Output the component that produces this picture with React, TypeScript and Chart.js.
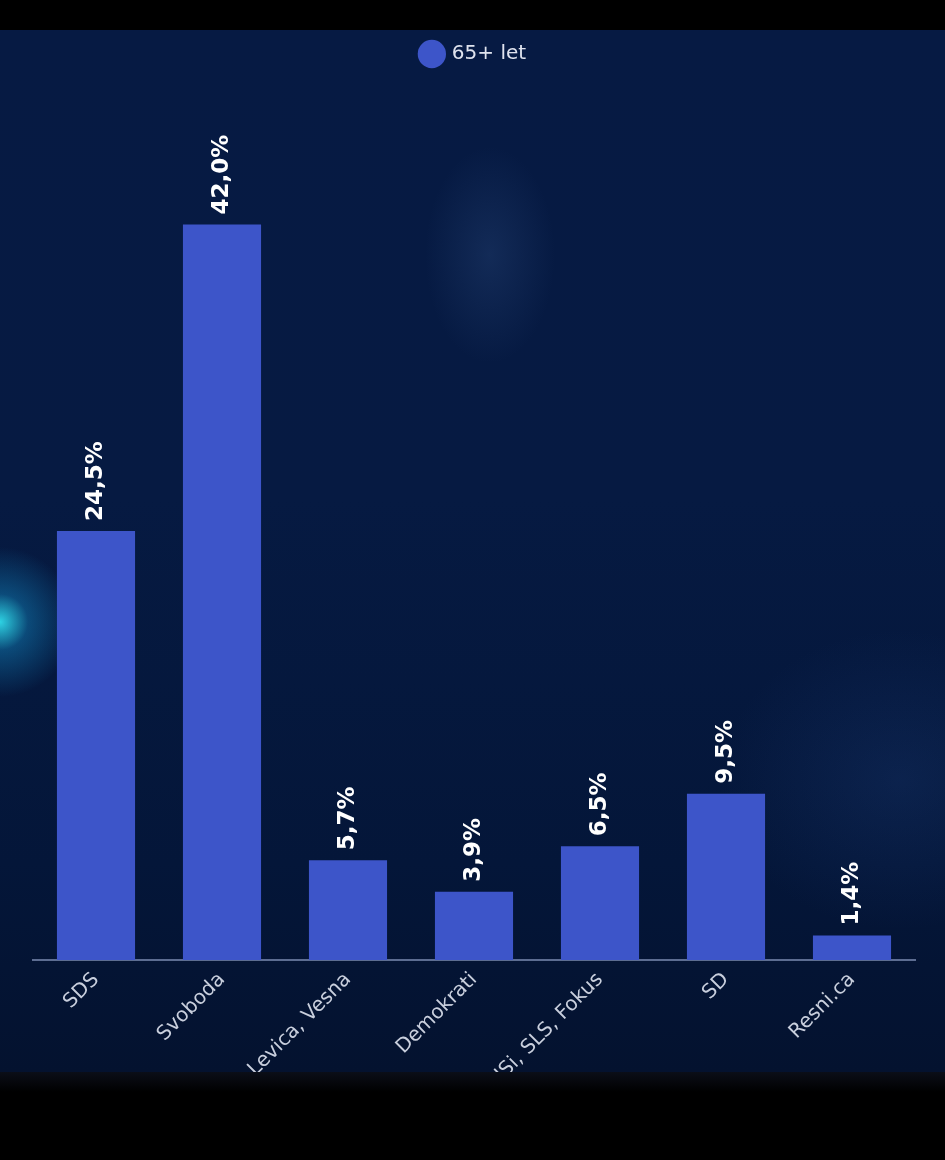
import React, { useEffect, useRef } from "react";
import { Chart, registerables } from "chart.js";

Chart.register(...registerables);

const categories = ["SDS", "Svoboda", "Levica, Vesna", "Demokrati", "NSi, SLS, Fokus", "SD", "Resni.ca"];
const seriesName = "65+ let";
const values = [24.5, 42.0, 5.7, 3.9, 6.5, 9.5, 1.4];

const BAR = "#3d55c9";

const valueLabels = {
  id: "valueLabels",
  afterDatasetsDraw(chart: any) {
    const ctx = chart.ctx;
    const meta = chart.getDatasetMeta(0);
    ctx.save();
    ctx.fillStyle = "#ffffff";
    ctx.font = "bold 23px 'DejaVu Sans'";
    ctx.textAlign = "left";
    ctx.textBaseline = "middle";
    meta.data.forEach((bar: any, i: number) => {
      const v = values[i];
      const txt = v.toFixed(1).replace(".", ",") + "%";
      ctx.save();
      ctx.translate(bar.x, bar.y - 10);
      ctx.rotate(-Math.PI / 2);
      ctx.fillText(txt, 0, 0);
      ctx.restore();
    });
    ctx.restore();
  },
};

export default function App() {
  const ref = useRef<HTMLCanvasElement>(null);
  useEffect(() => {
    if (!ref.current) return;
    const chart = new Chart(ref.current, {
      type: "bar",
      data: {
        labels: categories,
        datasets: [
          {
            label: seriesName,
            data: values,
            backgroundColor: BAR,
            borderWidth: 0,
            categoryPercentage: 1,
            barPercentage: 0.62,
          },
        ],
      },
      options: {
        responsive: false,
        animation: false,
        layout: { padding: { left: 33, right: 30, top: 4, bottom: 0 } },
        plugins: {
          legend: {
            display: true,
            position: "top",
            labels: {
              usePointStyle: true,
              pointStyle: "circle",
              boxWidth: 22,
              boxHeight: 22,
              color: "#dfe3ee",
              font: { family: "'DejaVu Sans'", size: 20 },
              padding: 10,
            },
          },
          tooltip: { enabled: false },
        },
        scales: {
          x: {
            grid: { display: false, drawTicks: false },
            border: { display: true, color: "#5d6d92", width: 2 },
            ticks: {
              color: "#c9cfdd",
              font: { family: "'DejaVu Sans'", size: 20 },
              minRotation: 45,
              maxRotation: 45,
              padding: 8,
              autoSkip: false,
            },
            afterFit(scale: any) {
              scale.height = 200;
            },
          },
          y: {
            display: false,
            min: 0,
            max: 50.6,
          },
        },
      },
      plugins: [valueLabels],
    });
    return () => chart.destroy();
  }, []);

  return (
    <div style={{ position: "absolute", left: 0, top: 0, width: 945, height: 1160, background: "#000" }}>
      <div
        style={{
          position: "absolute",
          left: 0,
          top: 30,
          width: 945,
          height: 1042,
          overflow: "hidden",
          background:
            "radial-gradient(circle at 0px 592px, rgba(50,230,245,0.9) 0px, rgba(20,150,210,0.4) 28px, rgba(0,0,0,0) 75px)," +
            "radial-gradient(ellipse at 490px 225px, rgba(70,110,170,0.2) 0px, rgba(0,0,0,0) 65px)," +
            "radial-gradient(ellipse at 900px 750px, rgba(40,80,150,0.2) 0px, rgba(0,0,0,0) 180px)," +
            "linear-gradient(180deg, #061a43 0%, #061a42 45%, #041639 80%, #04122f 100%)",
        }}
      >
        <canvas ref={ref} width={945} height={1130} style={{ display: "block", width: 945, height: 1130 }} />
      </div>
      <div
        style={{
          position: "absolute",
          left: 0,
          top: 1072,
          width: 945,
          height: 20,
          background: "linear-gradient(180deg, #0b0e18, #000000)",
        }}
      />
    </div>
  );
}
